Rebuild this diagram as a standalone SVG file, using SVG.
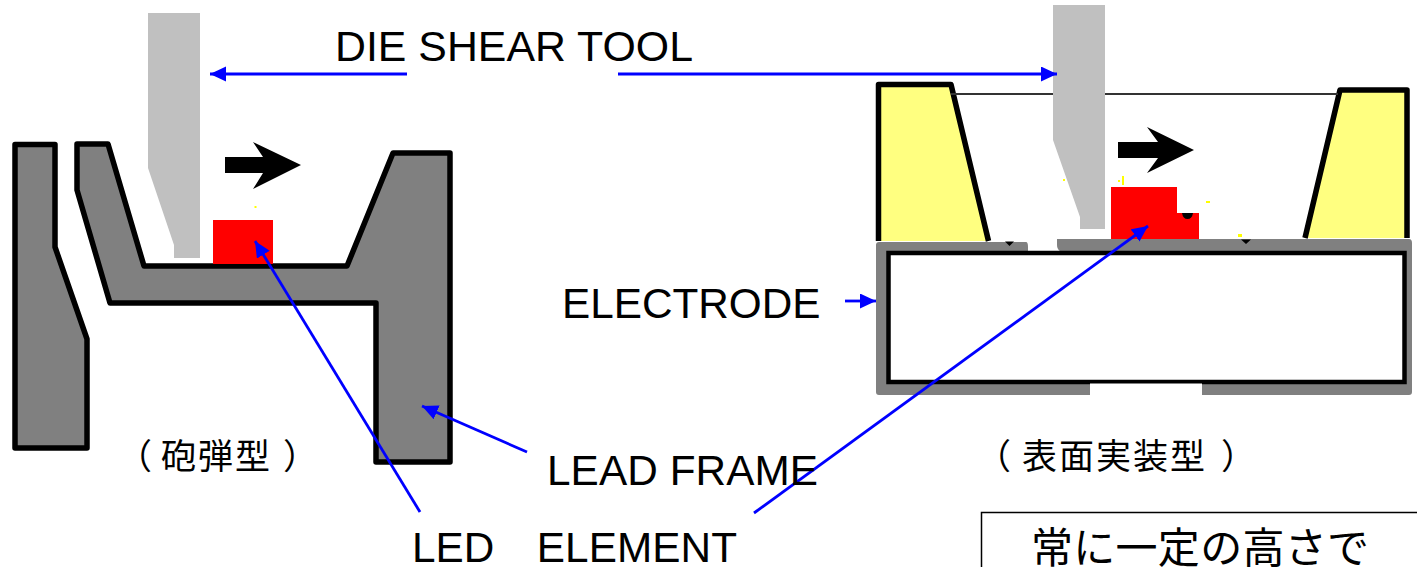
<svg xmlns="http://www.w3.org/2000/svg" width="1417" height="567" viewBox="0 0 1417 567">
<style>
.lat{font-family:"Liberation Sans",Arial,"Noto Sans CJK JP",sans-serif;font-size:42.300px;fill:#000}
.cjk{font-family:"Noto Sans CJK JP",sans-serif;fill:#000}
.frame{fill:#808080;stroke:#000;stroke-width:5.500;stroke-linejoin:round}
.cup{fill:#ffff80;stroke:#000;stroke-width:5.500;stroke-linejoin:round}
.tool{fill:#c0c0c0}
.chip{fill:#f00}
.speck{fill:#ff0}
.conn{stroke:#00f;stroke-width:2.800;fill:none;marker-end:url(#a)}
</style>
<defs>
<marker id="a" markerUnits="userSpaceOnUse" markerWidth="18" markerHeight="16" refX="16" refY="7.5" orient="auto">
<path d="M0 0L16 7.5L0 15z" fill="#00f"/>
</marker>
</defs>
<rect width="1417" height="567" fill="#fff"/>
<g id="lamp-lead-left"><path class="frame" d="M15 144.500H55V247L87 339V448H15z"/></g>
<g id="lamp-lead-frame"><path class="frame" d="M77 144H108L144 266H347L393 153H450V462H376V303H110L77 190z"/></g>
<g id="lamp-chip"><rect class="chip" x="213" y="220" width="60" height="44"/><rect class="speck" x="254.500" y="206" width="2" height="2"/></g>
<g id="lamp-tool"><path class="tool" d="M148 13H200V258H174V245L148 168z"/></g>
<g id="lamp-push"><path d="M225 157H263L253 142L301 165L253 189L263 173H225z"/></g>
<g id="smd-body">
<path d="M876 245Q876 242 879 242H1026Q1028 242 1028 247V251H1060Q1057 249 1057 245V239H1409Q1412 239 1412 243V392Q1412 395 1409 395H879Q876 395 876 392z" fill="#808080"/>
<rect x="888.500" y="253" width="516" height="129" fill="#fff" stroke="#000" stroke-width="4.500"/>
<rect x="1090" y="383.500" width="112" height="12" fill="#fff"/>
<path d="M1005 241.500H1014L1009.500 246zM1241 239.500H1251L1246 244z"/>
</g>
<g id="smd-cup-left"><path class="cup" d="M878.500 241V84.500H951L988.500 241"/></g>
<g id="smd-cup-right"><path class="cup" d="M1305 238L1340 90H1407V238"/></g>
<g id="smd-window"><path d="M951 94H1338" stroke="#333" stroke-width="2" fill="none"/></g>
<g id="smd-chip">
<path class="chip" d="M1111 187H1177V213H1199V239H1111z"/>
<path d="M1182 213H1193Q1192 219 1187.500 219Q1183 219 1182 213z"/>
<rect class="speck" x="1122" y="176" width="2" height="9"/><rect class="speck" x="1118" y="180" width="2" height="2"/><rect class="speck" x="1063" y="179" width="2" height="2"/><rect class="speck" x="1206" y="201" width="4" height="2"/><rect class="speck" x="1238" y="234" width="4" height="3"/>
</g>
<g id="smd-tool"><path class="tool" d="M1053 5H1105V229H1080V217L1053 140z"/></g>
<g id="smd-push"><path d="M1118 142H1158L1147 127L1194 150L1147 173L1158 158H1118z"/></g>
<g id="connectors">
<path class="conn" d="M407 74H210"/>
<path class="conn" d="M618 74H1057"/>
<path class="conn" d="M845 301H876"/>
<path class="conn" d="M527 452L422 406"/>
<path class="conn" d="M420 512L255 241"/>
<path class="conn" d="M754 513L1148 226"/>
</g>
<g id="labels">
<text class="lat" x="335" y="61" textLength="358" lengthAdjust="spacingAndGlyphs">DIE SHEAR TOOL</text>
<text class="lat" x="562" y="318">ELECTRODE</text>
<text class="lat" x="547" y="485" textLength="271">LEAD FRAME</text>
<text class="lat" x="412" y="562" textLength="325">LED　ELEMENT</text>
<text class="cjk" font-size="35" y="469" x="117 161 198 235 283">（砲弾型）</text>
<text class="cjk" font-size="35" y="469" x="976 1022 1059 1096 1133 1170 1221">（表面実装型）</text>
</g>
<g id="note">
<path d="M981.500 567V512.500H1417" fill="none" stroke="#000" stroke-width="1.500"/>
<text class="cjk" x="1031" y="563" font-size="42" textLength="338">常に一定の高さで</text>
</g>
</svg>
